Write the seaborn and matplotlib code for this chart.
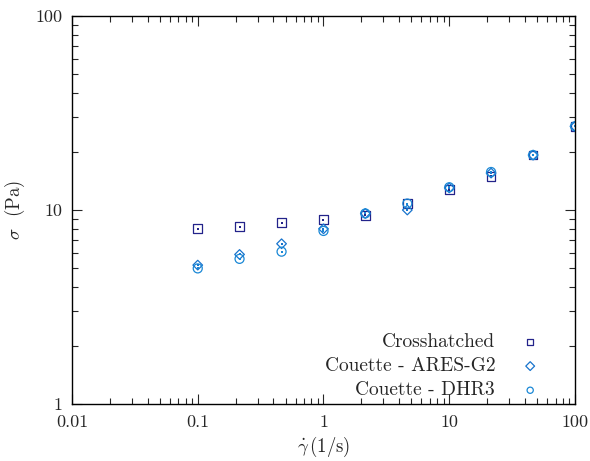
import numpy as np
import pandas as pd
import matplotlib
matplotlib.use('Agg')
import matplotlib.pyplot as plt
import matplotlib.ticker as mticker
import seaborn as sns

shear_rate = [0.1, 0.215, 0.464, 1.0, 2.15, 4.64, 10.0, 21.5, 46.4, 100.0]
stress_crosshatched = [8.0, 8.2, 8.6, 8.9, 9.4, 10.8, 12.7, 14.9, 19.2, 27.0]
stress_ares = [5.2, 5.9, 6.7, 8.0, 9.6, 10.0, 13.0, 15.5, 19.2, 27.0]
stress_dhr3 = [5.0, 5.6, 6.1, 7.8, 9.6, 10.8, 13.1, 15.7, 19.2, 27.0]

series = ['Crosshatched', 'Couette - ARES-G2', 'Couette - DHR3']

dados = pd.DataFrame({
    'rate': shear_rate * 3,
    'stress': stress_crosshatched + stress_ares + stress_dhr3,
    'serie': [s for s in series for _ in shear_rate],
})

sns.set_style('ticks')
plt.rcParams['font.family'] = 'serif'
plt.rcParams['font.serif'] = ['cmr10', 'DejaVu Serif']
plt.rcParams['mathtext.fontset'] = 'cm'
plt.rcParams['axes.formatter.use_mathtext'] = True

cores = {'Crosshatched': '#23238a', 'Couette - ARES-G2': '#1874cd', 'Couette - DHR3': '#1a88d6'}
marcadores = {'Crosshatched': 's', 'Couette - ARES-G2': 'D', 'Couette - DHR3': 'o'}
tamanhos = {'Crosshatched': 40, 'Couette - ARES-G2': 24, 'Couette - DHR3': 42}

fig = plt.figure(figsize=(5.9, 4.61), dpi=100)
ax = fig.add_axes([0.122, 0.1236, 0.8526, 0.8417])

for s in series:
    sub = dados[dados['serie'] == s]
    sns.scatterplot(data=sub, x='rate', y='stress', ax=ax, marker=marcadores[s],
                    s=tamanhos[s], facecolor='none', edgecolor=cores[s], linewidth=0.9,
                    label=s)
    # little dot in the middle, gnuplot style
    sns.scatterplot(data=sub, x='rate', y='stress', ax=ax, marker='s', s=2,
                    color=cores[s], linewidth=0, legend=False)

ax.set_xscale('log')
ax.set_yscale('log')
ax.set_xlim(0.01, 100)
ax.set_ylim(1, 100)

ax.xaxis.set_major_locator(mticker.FixedLocator([0.01, 0.1, 1, 10, 100]))
ax.xaxis.set_major_formatter(mticker.FixedFormatter(['0.01', '0.1', '1', '10', '100']))
ax.yaxis.set_major_locator(mticker.FixedLocator([1, 10, 100]))
ax.yaxis.set_major_formatter(mticker.FixedFormatter(['1', '10', '100']))
ax.xaxis.set_minor_locator(mticker.LogLocator(base=10, subs=np.arange(2, 10)))
ax.yaxis.set_minor_locator(mticker.LogLocator(base=10, subs=np.arange(2, 10)))
ax.xaxis.set_minor_formatter(mticker.NullFormatter())
ax.yaxis.set_minor_formatter(mticker.NullFormatter())

ax.tick_params(which='both', direction='in', top=True, right=True, labelsize=13)
ax.tick_params(axis='x', pad=8)
ax.tick_params(axis='y', pad=7)
ax.tick_params(which='major', length=7, width=0.8)
ax.tick_params(which='minor', length=4, width=0.8)
for sp in ax.spines.values():
    sp.set_linewidth(1.0)
    sp.set_color('black')

ax.set_xlabel(r'$\dot{\gamma}\,$(1/s)', fontsize=13.5, labelpad=3)
ax.set_ylabel(r'$\sigma$  (Pa)', fontsize=13.5, labelpad=6)

leg = ax.legend(loc='lower right', frameon=False, markerfirst=False, fontsize=14,
                handletextpad=0.8, borderaxespad=0.0, labelspacing=0.32,
                bbox_to_anchor=(0.965, -0.008))
for h in leg.legend_handles:
    h.set_sizes([20])

fig.savefig('out.png', dpi=100)
